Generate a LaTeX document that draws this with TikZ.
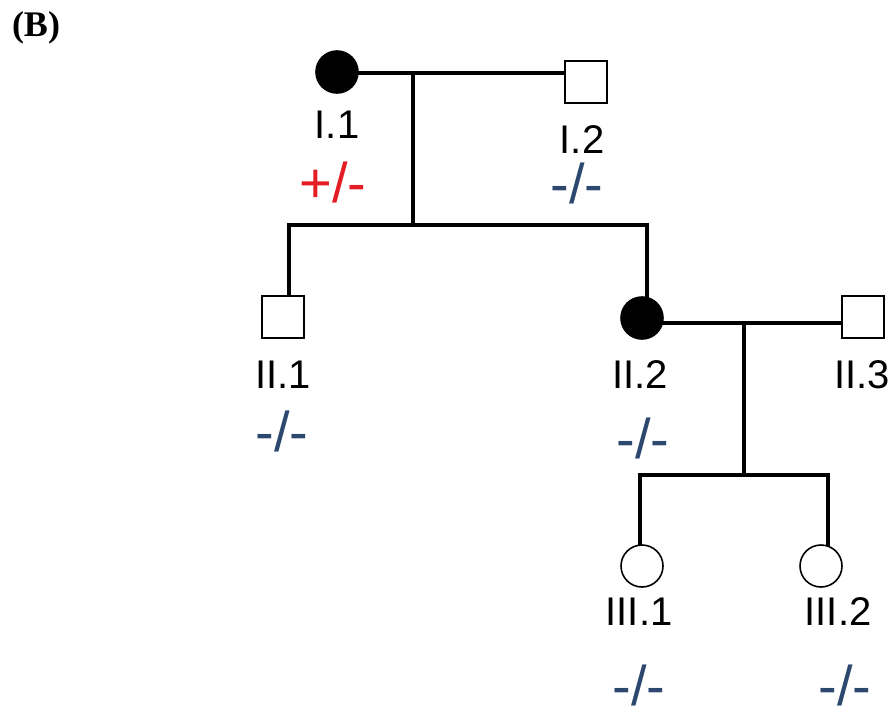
\documentclass[tikz,border=0pt]{standalone}
\usepackage{fontspec}
\setmainfont{Liberation Sans}
\newfontfamily\timesfont{Liberation Serif}
\usetikzlibrary{backgrounds}
\definecolor{genored}{RGB}{228,28,36}
\definecolor{genoblue}{RGB}{44,72,110}
\begin{document}
\begin{tikzpicture}[x=1pt,y=-1pt,
  female/.style={circle,draw=black,line width=1.6pt,fill=white,minimum size=42pt,inner sep=0pt},
  male/.style={rectangle,draw=black,line width=1.6pt,fill=white,minimum size=42pt,inner sep=0pt},
  affected/.style={fill=black},
  idlabel/.style={anchor=base,inner sep=0pt,font=\fontsize{40}{40}\selectfont},
  geno/.style={anchor=base,inner sep=0pt,font=\fontsize{56}{56}\selectfont,text=genoblue},
  link/.style={line width=3.2pt,line cap=rect}]
\useasboundingbox (0,0) rectangle (895,715);

% panel tag
\node[anchor=center,inner sep=0pt,font=\timesfont\bfseries\fontsize{36}{36}\selectfont] (tag) at (36,28) {(B)};

% generation I
\node[female,affected] (I1) at (337,72) {};
\node[male] (I2) at (586,82) {};
% generation II
\node[male] (II1) at (283,317) {};
\node[female,affected] (II2) at (642,318) {};
\node[male] (II3) at (863,317) {};
% generation III
\node[female] (III1) at (642,566) {};
\node[female] (III2) at (821,566) {};

% individual numbers
\node[idlabel] (lI1) at (337,138) {I.1};
\node[idlabel] (lI2) at (582,153) {I.2};
\node[idlabel] (lII1) at (283,388) {II.1};
\node[idlabel] (lII2) at (640,388) {II.2};
\node[idlabel] (lII3) at (862,388) {II.3};
\node[idlabel] (lIII1) at (639,625) {III.1};
\node[idlabel] (lIII2) at (838,625) {III.2};

% genotypes
\node[geno,text=genored] (gI1) at (333,202) {+/-};
\node[geno] (gI2) at (577,203) {-/-};
\node[geno] (gII1) at (282,451) {-/-};
\node[geno] (gII2) at (643,458) {-/-};
\node[geno] (gIII1) at (639,705) {-/-};
\node[geno] (gIII2) at (845,705) {-/-};

% junction points of the pedigree lines
\coordinate (m1) at (413,73);
\coordinate (s1) at (413,225);
\coordinate (s1l) at (289,225);
\coordinate (s1r) at (647,225);
\coordinate (m2) at (744,323);
\coordinate (s2) at (744,475);
\coordinate (s2l) at (640,475);
\coordinate (s2r) at (828,475);

\begin{scope}[on background layer]
  % mating and descent, generation I
  \draw[link] (m1 -| I1.east) -- (m1 -| I2.west);
  \draw[link] (m1) -- (s1);
  \draw[link] (s1l) -- (s1r);
  \draw[link] (s1l) -- (s1l |- II1.north);
  \draw[link] (s1r) -- (s1r |- II2.north);
  % mating and descent, generation II
  \draw[link] (m2 -| II2.east) -- (m2 -| II3.west);
  \draw[link] (m2) -- (s2);
  \draw[link] (s2l) -- (s2r);
  \draw[link] (s2l) -- (s2l |- III1.north);
  \draw[link] (s2r) -- (s2r |- III2.north);
\end{scope}
\end{tikzpicture}
\end{document}
